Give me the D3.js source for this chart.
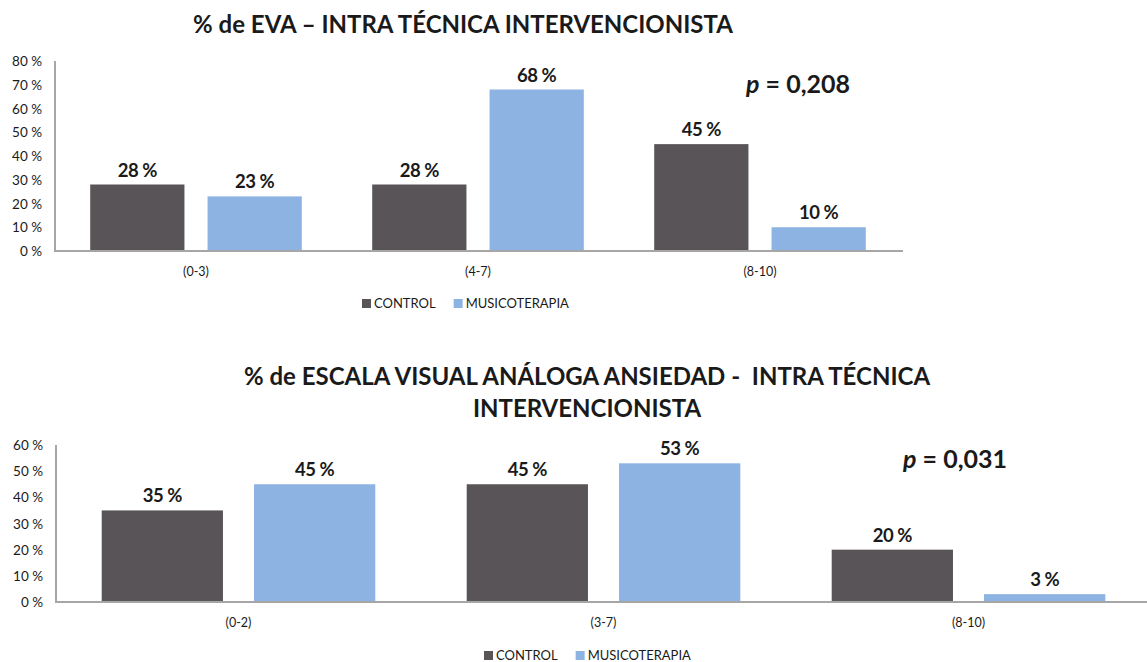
<!DOCTYPE html>
<html>
<head>
<meta charset="utf-8">
<script src="https://cdn.jsdelivr.net/npm/d3@7"></script>
<style>
  html, body { margin: 0; padding: 0; background: #fff; }
  svg { display: block; font-family: Lato, "Open Sans", sans-serif; }
</style>
</head>
<body>
<svg id="chart" width="1147" height="662"></svg>
<script>
// data
const series = ["CONTROL", "MUSICOTERAPIA"];
const evaCategories = ["(0-3)", "(4-7)", "(8-10)"];
const evaControl = [28, 28, 45];
const evaMusic = [23, 68, 10];
const evaTicks = [0, 10, 20, 30, 40, 50, 60, 70, 80];
const evaP = "0,208";

const ansCategories = ["(0-2)", "(3-7)", "(8-10)"];
const ansControl = [35, 45, 20];
const ansMusic = [45, 53, 3];
const ansTicks = [0, 10, 20, 30, 40, 50, 60];
const ansP = "0,031";

const colors = { CONTROL: "#595457", MUSICOTERAPIA: "#8db3e2" };
const svg = d3.select("#chart");

function drawChart(opt) {
  const g = svg.append("g");
  const x = d3.scaleBand().domain(opt.categories).range([opt.left, opt.right]);
  const inner = d3.scaleBand().domain(series).range([0, x.bandwidth()])
    .paddingInner(opt.padIn).paddingOuter(opt.padOut);
  const y = d3.scaleLinear().domain([0, d3.max(opt.ticks)]).range([opt.bottom, opt.top]);

  const rows = opt.categories.map((c, i) => ({ cat: c, CONTROL: opt.control[i], MUSICOTERAPIA: opt.music[i] }));

  // tick labels
  g.selectAll(".tick").data(opt.ticks).join("text")
    .attr("x", opt.left - 13).attr("y", (d) => y(d) + 5)
    .attr("text-anchor", "end").attr("font-size", 13.5).attr("fill", "#1a1a1a")
    .text((d) => `${d} %`);

  // bars
  rows.forEach((r) => {
    series.forEach((s) => {
      const bx = x(r.cat) + inner(s);
      g.append("rect").attr("x", bx).attr("y", y(r[s]))
        .attr("width", inner.bandwidth()).attr("height", opt.bottom - y(r[s]))
        .attr("fill", colors[s]);
      g.append("text").attr("x", bx + inner.bandwidth() / 2).attr("y", y(r[s]) - 8)
        .attr("text-anchor", "middle").attr("font-size", 18.5).attr("font-weight", 700)
        .attr("fill", "#1a1a1a").attr("letter-spacing", -0.5).text(`${r[s]} %`);
    });
  });

  // axes lines
  g.append("line").attr("x1", opt.left).attr("x2", opt.left).attr("y1", opt.top).attr("y2", opt.bottom)
    .attr("stroke", "#a6a6a6").attr("stroke-width", 2);
  g.append("line").attr("x1", opt.left - 1).attr("x2", opt.axisEnd).attr("y1", opt.bottom).attr("y2", opt.bottom)
    .attr("stroke", "#a6a6a6").attr("stroke-width", 2);

  // category labels
  g.selectAll(".cat").data(opt.categories).join("text")
    .attr("x", (d) => x(d) + x.bandwidth() / 2).attr("y", opt.bottom + 25)
    .attr("text-anchor", "middle").attr("font-size", 12.5).attr("fill", "#1a1a1a").text((d) => d);

  // title
  opt.title.forEach((t, i) => {
    g.append("text").attr("x", opt.titleX).attr("y", opt.titleY + i * 32)
      .attr("text-anchor", "middle").attr("font-size", 24).attr("font-weight", 700)
      .attr("fill", "#1a1a1a").attr("xml:space", "preserve").text(t);
  });

  // p value
  const pt = g.append("text").attr("x", opt.pX).attr("y", opt.pY)
    .attr("font-size", 25).attr("font-weight", 700).attr("fill", "#1a1a1a");
  pt.append("tspan").attr("font-style", "italic").text("p");
  pt.append("tspan").text(` = ${opt.p}`);

  // legend
  const lg = g.append("g").attr("transform", `translate(${opt.legendX},${opt.legendY})`);
  let off = 0;
  series.forEach((s) => {
    lg.append("rect").attr("x", off).attr("y", -9).attr("width", 9).attr("height", 9).attr("fill", colors[s]);
    const tx = lg.append("text").attr("x", off + 12).attr("y", 0).attr("font-size", 13)
      .attr("fill", "#1a1a1a").text(s);
    off += 12 + tx.node().getComputedTextLength() + 18;
  });
}

drawChart({
  categories: evaCategories, control: evaControl, music: evaMusic, ticks: evaTicks, p: evaP,
  left: 55, right: 901, axisEnd: 903, top: 61, bottom: 251, padIn: 0.197, padOut: 0.3,
  title: ["% de EVA \u2013 INTRA T\u00c9CNICA INTERVENCIONISTA"], titleX: 463, titleY: 33,
  pX: 746, pY: 93, legendX: 362, legendY: 308
});

drawChart({
  categories: ansCategories, control: ansControl, music: ansMusic, ticks: ansTicks, p: ansP,
  left: 56, right: 1151, axisEnd: 1147, top: 445, bottom: 602, padIn: 0.204, padOut: 0.3,
  title: ["% de ESCALA VISUAL AN\u00c1LOGA ANSIEDAD -  INTRA T\u00c9CNICA", "INTERVENCIONISTA"],
  titleX: 587, titleY: 385,
  pX: 903, pY: 468, legendX: 484, legendY: 660
});
</script>
</body>
</html>
